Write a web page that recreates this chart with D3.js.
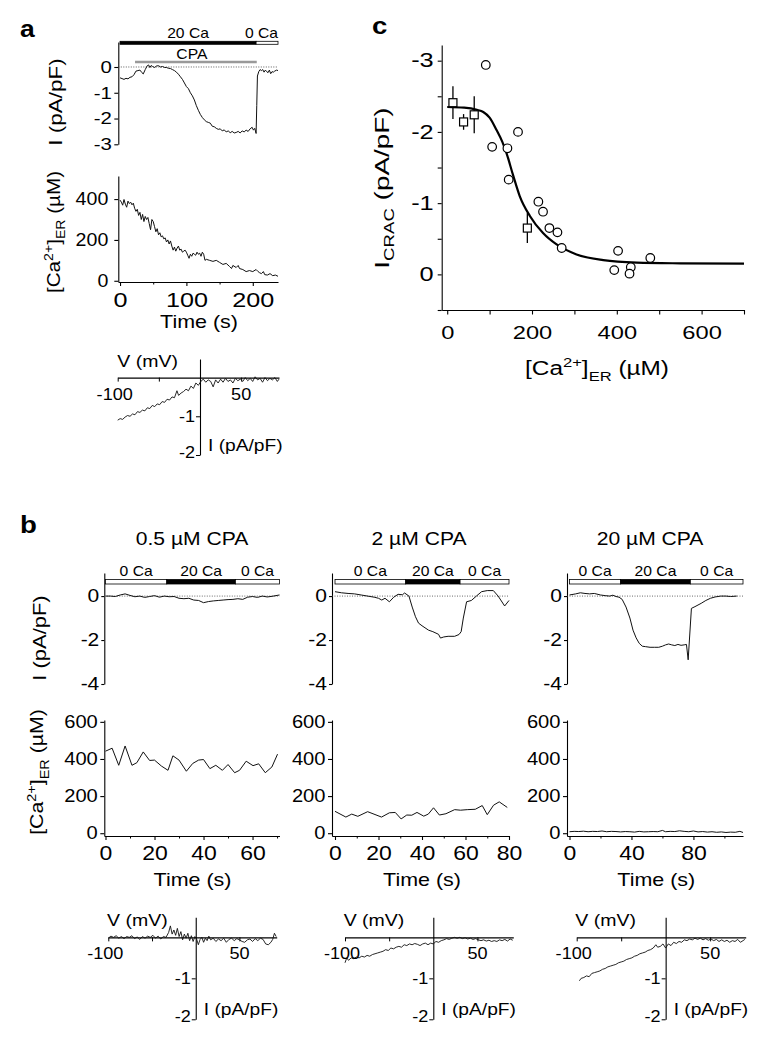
<!DOCTYPE html>
<html><head><meta charset="utf-8">
<script src="https://cdn.jsdelivr.net/npm/d3@7"></script>
<style>body{margin:0;background:#fff}svg{display:block}</style>
</head><body>
<script>
// ================= DATA =================
// Panel a: time course (t in s, I in pA/pF)
const aCurrent = [[0,-0.42],[3,-0.45],[6,-0.48],[9,-0.44],[12,-0.46],[15,-0.40],[18,-0.38],[21,-0.30],[24,-0.16],[27,-0.14],[30,-0.12],[33,-0.22],[35,-0.27],[38,-0.10],[41,0.05],[43,0.08],[45,-0.02],[47,0.06],[49,0.02],[52,-0.02],[55,0.04],[58,0.05],[61,0.00],[64,0.02],[67,-0.02],[70,-0.02],[73,-0.05],[76,-0.06],[79,-0.10],[82,-0.14],[85,-0.20],[88,-0.28],[91,-0.38],[94,-0.48],[97,-0.62],[100,-0.76],[103,-0.84],[106,-1.0],[109,-1.12],[112,-1.28],[115,-1.50],[118,-1.68],[121,-1.84],[124,-1.96],[127,-2.05],[130,-2.12],[133,-2.15],[136,-2.18],[139,-2.30],[142,-2.32],[145,-2.38],[148,-2.42],[151,-2.40],[154,-2.48],[157,-2.44],[160,-2.52],[163,-2.48],[166,-2.55],[169,-2.50],[172,-2.56],[175,-2.54],[178,-2.50],[181,-2.56],[184,-2.48],[187,-2.52],[190,-2.45],[193,-2.50],[196,-2.40],[199,-2.34],[201,-2.45],[203,-2.38],[205,-2.58],[206,-1.5],[207,-0.35],[209,-0.18],[211,-0.10],[213,-0.14],[215,-0.10],[217,-0.2],[219,-0.12],[221,-0.18],[223,-0.22],[225,-0.12],[227,-0.26],[229,-0.18],[231,-0.2],[233,-0.16],[236,-0.12],[238,-0.14]];
const aCaER = [[0,395],[2,385],[4,370],[6,398],[8,375],[10,360],[12,390],[14,378],[16,385],[18,372],[20,380],[22,355],[24,340],[26,350],[28,320],[30,335],[32,300],[34,325],[36,290],[38,315],[40,300],[42,310],[44,280],[46,250],[48,300],[50,290],[52,265],[54,240],[56,255],[58,225],[60,235],[62,215],[64,220],[66,205],[68,210],[70,190],[72,200],[74,180],[76,195],[78,170],[80,150],[82,165],[84,145],[86,160],[88,170],[90,150],[92,155],[94,140],[96,145],[98,150],[100,140],[102,125],[104,110],[106,130],[108,120],[110,135],[112,130],[114,125],[116,140],[118,130],[120,135],[122,120],[124,140],[126,130],[128,100],[130,105],[135,100],[140,95],[145,100],[150,90],[155,80],[160,85],[165,70],[168,60],[170,75],[175,65],[178,75],[180,60],[185,55],[190,45],[195,50],[200,45],[205,55],[208,45],[210,40],[213,35],[216,45],[218,30],[222,28],[226,35],[230,25],[234,28],[238,22]];
const aIV = [[-100,-1.10],[-97,-1.06],[-94,-1.08],[-91,-1.02],[-88,-0.98],[-85,-1.0],[-82,-0.94],[-79,-0.96],[-76,-0.88],[-73,-0.9],[-70,-0.84],[-67,-0.86],[-64,-0.78],[-61,-0.8],[-58,-0.72],[-55,-0.75],[-52,-0.68],[-49,-0.7],[-46,-0.62],[-43,-0.64],[-40,-0.56],[-37,-0.58],[-34,-0.5],[-31,-0.52],[-28,-0.34],[-26,-0.46],[-23,-0.4],[-20,-0.36],[-17,-0.3],[-14,-0.34],[-11,-0.22],[-8,-0.28],[-5,-0.14],[-2,-0.2],[1,-0.1],[4,-0.04],[7,-0.12],[10,-0.06],[13,-0.1],[16,-0.24],[19,-0.06],[22,-0.14],[25,-0.04],[28,-0.12],[31,-0.02],[34,-0.1],[37,-0.06],[40,-0.14],[43,-0.02],[46,-0.08],[49,-0.04],[52,-0.1],[55,0.0],[58,-0.08],[61,-0.02],[64,-0.1],[67,0.02],[70,-0.06],[73,-0.02],[76,-0.12],[79,0.0],[82,-0.08],[85,-0.02],[88,-0.06],[91,0.0],[94,-0.1],[96,-0.04]];
const aBar = [{start:0,end:205,fill:"#000",label:"20 Ca"},{start:205,end:238,fill:"#fff",label:"0 Ca"}];
const aCPA = {start:22.6,end:206,label:"CPA"};
const aTicksI = [0,-1,-2,-3];
const aTicksER = [0,200,400];
const aTicksTime = [0,100,200];
const aMinorTime = [50,150];
const ivTicksV = [-100,-50,50];
const ivTicksI = [-1,-2];

// Panel c
const cCircles = [[91,-2.94],[106,-1.79],[167,-2.0],[142,-1.77],[145,-1.33],[215,-1.02],[226,-0.88],[241,-0.65],[260,-0.59],[270,-0.37],[403,-0.33],[394,-0.06],[433,-0.10],[430,-0.01],[479,-0.23]];
const cSquares = [[13.5,-2.41,0.23],[38.6,-2.14,0.11],[63.7,-2.24,0.26],[189,-0.65,0.21]];
const cFit = [[0,-2.35],[40,-2.34],[70,-2.31],[85,-2.28],[100,-2.2],[116,-2.03],[130,-1.86],[140,-1.70],[155,-1.40],[171,-1.10],[195,-0.82],[226,-0.58],[258,-0.42],[305,-0.28],[368,-0.20],[447,-0.165],[550,-0.155],[700,-0.15]];
const cTicksX = [0,100,200,300,400,500,600,700];
const cLabelsX = [0,200,400,600];
const cTicksY = [-3,-2.5,-2,-1.5,-1,-0.5,0,0.5];
const cLabelsY = [-3,-2,-1,0];

// Panel b
const bTitles = ["0.5 µM CPA","2 µM CPA","20 µM CPA"];
const bDurations = [71,80,112];
const bBounds = [[0,25,53,71],[0,32.5,57.5,80],[0,33,78,112]];
const bBarFills = ["#fff","#000","#fff"];
const bBarLabels = ["0 Ca","20 Ca","0 Ca"];
const bTicksI = [0,-2,-4];
const bTicksER = [0,200,400,600];
const bTimeTicks = [[0,20,40,60],[0,20,40,60,80],[0,40,80]];
const bTimeMinor = [[10,30,50,70],[10,30,50,70],[20,60,100]];
const bCurrent1 = [[0,0],[2,0.0],[4,-0.02],[6,0.05],[8,0.1],[10,0.03],[12,-0.03],[14,0.0],[16,-0.06],[18,-0.02],[20,0.02],[22,-0.05],[24,0.0],[26,-0.03],[28,-0.02],[30,-0.1],[32,-0.12],[34,-0.1],[36,-0.18],[38,-0.2],[40,-0.3],[42,-0.25],[44,-0.22],[46,-0.2],[48,-0.18],[50,-0.16],[52,-0.15],[54,-0.12],[56,-0.15],[58,-0.05],[60,-0.02],[62,-0.06],[64,0.0],[66,-0.04],[68,-0.01],[70,0.03],[71,0.05]];
const bCurrent2 = [[0,0.2],[3,0.15],[6,0.12],[9,0.1],[12,0.05],[15,0.0],[18,-0.05],[20,-0.1],[21.5,-0.18],[23,-0.1],[25,-0.26],[27,-0.05],[29,0.08],[31,0.06],[32,0.14],[34,0.0],[35.5,-0.5],[37,-0.94],[38.4,-1.23],[40,-1.35],[43,-1.55],[45,-1.62],[47.6,-1.74],[48.5,-1.91],[50,-1.86],[52,-1.83],[55,-1.83],[57,-1.75],[58,-1.62],[59,-1.0],[60.5,-0.26],[62.7,-0.2],[65,0.0],[67.4,0.2],[70,0.25],[72.8,0.25],[75,0.0],[78,-0.45],[80,-0.2]];
const bCurrent3 = [[0,0.05],[4,0.1],[7,0.15],[10,0.12],[13,0.1],[16,0.12],[20,0.05],[23,0.02],[26,0.0],[28,0.04],[30,-0.02],[32,-0.05],[34,-0.15],[36.5,-0.5],[39,-1.0],[41,-1.55],[43,-1.9],[45,-2.15],[47,-2.28],[49,-2.3],[52,-2.33],[55,-2.33],[57.6,-2.33],[60,-2.28],[62,-2.22],[64,-2.18],[66,-2.22],[68,-2.25],[70,-2.2],[72,-2.24],[74,-2.22],[75.5,-2.2],[76.6,-2.9],[78.7,-0.56],[81,-0.48],[85,-0.33],[88,-0.2],[91,-0.1],[94,-0.04],[97.6,0.0],[101,0.0],[104,-0.02],[108,0.0]];
const bCaER1 = [[0,442],[2.7,458],[5.4,366],[8,470],[10.8,366],[12.8,380],[15.4,438],[18,392],[20,394],[22.8,362],[25.5,339],[27.5,417],[30,394],[33,334],[35.6,376],[38,394],[40,397],[42.6,348],[45,366],[47.7,339],[50,370],[52.7,326],[54.7,339],[57.4,388],[60.2,364],[62.5,374],[65.2,326],[67.9,357],[70.2,426]];
const bCaER2 = [[0,118],[5,87],[7.7,103],[10.5,91],[15,116],[21.4,87],[25,110],[27.7,112],[30.4,77],[33,98],[35.3,97],[37.7,112],[40.8,92],[42.9,103],[45.3,137],[48,98],[51,105],[55,127],[57.7,124],[60.8,127],[64.5,129],[67.7,149],[70,100],[72.9,151],[75.5,169],[79.2,139]];
const bCaER3 = [[0,8],[3,10],[6,9],[9,11],[12,8],[15,10],[18,9],[21,12],[24,8],[27,10],[30,9],[33,7],[36,9],[39,8],[42,6],[45,10],[48,7],[51,8],[54,9],[57,8],[60,15],[62,8],[65,10],[68,9],[71,13],[74,10],[77,8],[80,12],[83,7],[86,9],[89,6],[92,8],[95,5],[98,7],[101,4],[104,6],[107,5],[110,10],[112,4]];
const bIV1 = [[-100,-0.02],[-97,0.03],[-94,0.0],[-91,0.04],[-88,-0.02],[-85,0.02],[-82,-0.03],[-79,0.02],[-76,0.0],[-73,0.04],[-70,-0.03],[-67,0.01],[-64,-0.05],[-61,0.02],[-58,-0.02],[-55,0.03],[-52,0.0],[-49,0.05],[-46,-0.02],[-43,0.03],[-40,-0.04],[-37,0.02],[-34,0.0],[-31,0.12],[-29,0.28],[-27,0.08],[-25,0.18],[-23,0.05],[-21,0.22],[-19,0.02],[-17,0.14],[-15,-0.06],[-13,0.08],[-11,-0.02],[-9,0.1],[-7,-0.08],[-5,0.04],[-3,-0.1],[-1,0.02],[1,-0.04],[3,-0.18],[5,-0.05],[7,0.0],[9,-0.12],[11,-0.02],[13,-0.08],[15,0.03],[17,-0.06],[20,-0.02],[23,-0.1],[26,-0.04],[29,-0.08],[32,-0.02],[35,-0.12],[38,-0.05],[41,-0.02],[44,-0.08],[47,-0.03],[50,-0.06],[53,-0.1],[56,-0.12],[59,-0.06],[62,-0.04],[65,-0.1],[68,-0.03],[71,-0.08],[74,-0.02],[77,-0.05],[80,-0.16],[83,-0.18],[86,-0.12],[88,-0.05],[90,0.1],[92,0.02]];
const bIV2 = [[-100,-0.62],[-98,-0.5],[-96,-0.56],[-93,-0.5],[-90,-0.52],[-87,-0.48],[-84,-0.5],[-81,-0.46],[-78,-0.48],[-75,-0.44],[-72,-0.46],[-69,-0.42],[-66,-0.4],[-63,-0.38],[-60,-0.36],[-57,-0.34],[-54,-0.3],[-51,-0.32],[-48,-0.26],[-45,-0.28],[-42,-0.24],[-39,-0.22],[-36,-0.24],[-33,-0.18],[-30,-0.2],[-27,-0.16],[-24,-0.18],[-21,-0.15],[-18,-0.17],[-15,-0.2],[-12,-0.16],[-9,-0.14],[-6,-0.18],[-3,-0.14],[0,-0.16],[3,-0.1],[6,-0.12],[9,-0.08],[12,-0.06],[15,-0.03],[18,-0.05],[21,-0.02],[24,0.0],[27,-0.02],[30,0.0],[33,-0.03],[36,-0.01],[39,-0.04],[42,-0.02],[45,-0.05],[48,-0.03],[51,-0.06],[54,-0.08],[57,-0.06],[60,-0.09],[63,-0.07],[66,-0.1],[69,-0.08],[72,-0.1],[75,-0.06],[78,-0.08],[81,-0.05],[84,-0.09],[87,-0.04],[90,-0.07]];
const bIV3 = [[-97,-1.06],[-95,-1.0],[-92,-0.98],[-89,-0.94],[-86,-0.96],[-83,-0.88],[-80,-0.86],[-77,-0.84],[-74,-0.82],[-71,-0.78],[-68,-0.76],[-65,-0.72],[-62,-0.7],[-59,-0.68],[-56,-0.66],[-53,-0.62],[-50,-0.6],[-47,-0.58],[-44,-0.54],[-41,-0.52],[-38,-0.5],[-35,-0.46],[-32,-0.44],[-29,-0.4],[-26,-0.38],[-23,-0.36],[-20,-0.32],[-17,-0.3],[-14,-0.26],[-11,-0.18],[-9,-0.24],[-6,-0.22],[-3,-0.16],[0,-0.26],[3,-0.16],[6,-0.2],[9,-0.12],[12,-0.15],[15,-0.1],[18,-0.12],[21,-0.06],[24,-0.08],[27,-0.04],[30,-0.06],[33,-0.02],[36,-0.05],[39,-0.02],[42,-0.06],[45,-0.03],[48,-0.07],[51,-0.04],[54,-0.08],[57,-0.05],[60,-0.1],[63,-0.06],[66,-0.1],[69,-0.07],[72,-0.12],[75,-0.08],[78,-0.1],[81,-0.05],[84,-0.12],[87,-0.08],[89,-0.05]];
const bCurrent = [bCurrent1,bCurrent2,bCurrent3];
const bCaER = [bCaER1,bCaER2,bCaER3];
const bIV = [bIV1,bIV2,bIV3];
const bVmax = [92.6,90.6,90];

// ================= DRAWING =================
const FONT = '"Liberation Sans", Arial, Helvetica, sans-serif';
const svg = d3.select("body").append("svg").attr("width",768).attr("height",1045);
svg.append("rect").attr("width",768).attr("height",1045).attr("fill","#fff");

function txt(g,x,y,parts,o={}){
  const sx = o.sx||1.18;
  const t = g.append("text")
    .attr("transform",`translate(${x},${y})`+(o.rot?` rotate(${o.rot})`:"")+` scale(${sx},1)`)
    .attr("text-anchor",o.anchor||"middle")
    .attr("font-family",FONT).attr("font-size",o.size||17)
    .attr("font-weight",o.weight||"normal").attr("fill","#000");
  if(Array.isArray(parts)) parts.forEach(p=>t.append("tspan").attr("dy",p.dy||0).attr("font-size",p.size||null).text(p.t));
  else t.text(parts);
  return t;
}
function styleAxis(g,size,sx){
  g.attr("font-family",FONT);
  g.selectAll("path.domain").attr("stroke","#000").attr("stroke-width",1.1);
  g.selectAll(".tick line").attr("stroke","#000").attr("stroke-width",1.1);
  g.selectAll(".tick text").attr("font-size",size).attr("fill","#000").attr("font-family",FONT)
    .each(function(){const t=d3.select(this);const x=+t.attr("x")||0;const y=+t.attr("y")||0;
      t.attr("x",null).attr("y",null).attr("transform",`translate(${x},${y}) scale(${sx},1)`);});
  return g;
}
const fmt = d=>String(d);
function trace(g,data,x,y,w){
  g.append("path").datum(data).attr("fill","none").attr("stroke","#111").attr("stroke-width",w||1)
   .attr("stroke-linejoin","round").attr("d",d3.line().x(d=>x(d[0])).y(d=>y(d[1])));
}
const erLabel = (s)=>[{t:"[Ca"},{t:"2+",dy:-s*0.4,size:s*0.68},{t:"]",dy:s*0.4},{t:"ER",dy:s*0.3,size:s*0.68},{t:" (µM)",dy:-s*0.3}];

// ---------- Panel a ----------
txt(svg,20,37,"a",{anchor:"start",size:23,weight:"bold",sx:1.15});
const aX = d3.scaleLinear().domain([-2.6,238]).range([118.3,278]);
const aYI = d3.scaleLinear().domain([-3,0.97]).range([144.3,42]);
const aYE = d3.scaleLinear().domain([-6,513]).range([282,176]);
styleAxis(svg.append("g").attr("transform","translate(118.3,0)")
  .call(d3.axisLeft(aYI).tickValues(aTicksI).tickSize(4).tickPadding(2.5).tickSizeOuter(0).tickFormat(fmt)),17,1.2);
svg.append("line").attr("x1",118.3).attr("x2",278).attr("y1",aYI(0)).attr("y2",aYI(0))
  .attr("stroke","#333").attr("stroke-width",0.8).attr("stroke-dasharray","1,1.5");
aBar.forEach(s=>{
  svg.append("rect").attr("x",aX(s.start)).attr("y",41.3).attr("width",aX(s.end)-aX(s.start)).attr("height",3)
    .attr("fill",s.fill).attr("stroke","#000").attr("stroke-width",0.8);
});
txt(svg,(aX(aBar[0].start)+aX(aBar[0].end))/2,38,aBar[0].label,{size:14,sx:1.12});
txt(svg,aX(aBar[1].end),38,aBar[1].label,{size:14,sx:1.12,anchor:"end"});
svg.append("line").attr("x1",aX(aCPA.start)).attr("x2",aX(aCPA.end)).attr("y1",62).attr("y2",62)
  .attr("stroke","#999").attr("stroke-width",2.6);
txt(svg,(aX(aCPA.start)+aX(aCPA.end))/2-4,58.5,aCPA.label,{size:14,sx:1.12});
trace(svg,aCurrent,aX,aYI);
txt(svg,62,102,"I (pA/pF)",{rot:-90,size:18,sx:1.25});

styleAxis(svg.append("g").attr("transform","translate(118.3,0)")
  .call(d3.axisLeft(aYE).tickValues(aTicksER).tickSize(4).tickPadding(6).tickSizeOuter(0).tickFormat(fmt)),17.5,1.12);
styleAxis(svg.append("g").attr("transform","translate(0,282)")
  .call(d3.axisBottom(aX).tickValues(aTicksTime).tickSize(4).tickPadding(6).tickSizeOuter(0).tickFormat(fmt)),21,1.2);
svg.append("g").attr("transform","translate(0,282)")
  .call(d3.axisBottom(aX).tickValues(aMinorTime).tickSize(2.5).tickSizeOuter(0).tickFormat(""))
  .call(g=>{g.select("path.domain").remove();g.selectAll("line").attr("stroke","#000");});
trace(svg,aCaER,aX,aYE);
txt(svg,60,232,erLabel(18),{rot:-90,size:18,sx:1.15});
txt(svg,aX(119),328,"Time (s)",{size:18.5,sx:1.16});

// Panel a IV
const aVx = d3.scaleLinear().domain([-100,96]).range([117.7,279]);
const aVy = d3.scaleLinear().domain([-2,0.48]).range([455,359]);
function drawIV(g,vx,vy,data,o){
  g.append("g").attr("transform",`translate(0,${vy(0)})`)
    .call(d3.axisBottom(vx).tickValues(ivTicksV).tickSize(4).tickSizeOuter(0).tickFormat(""))
    .call(a=>{a.select("path.domain").attr("stroke","#000").attr("stroke-width",1.1);a.selectAll("line").attr("stroke","#000");});
  g.append("g").attr("transform",`translate(${vx(0)},0)`)
    .call(d3.axisLeft(vy).tickValues(ivTicksI).tickSize(4).tickSizeOuter(0).tickFormat(""))
    .call(a=>{a.select("path.domain").attr("stroke","#000").attr("stroke-width",1.1);a.selectAll("line").attr("stroke","#000");});
  trace(g,data,vx,vy,0.9);
  const s=16;
  txt(g,vx(-100)+o.vlab,vy(0)-11,"V (mV)",{size:s,sx:1.22});
  txt(g,vx(-100)-3,vy(0)+22,"-100",{size:s,sx:1.13});
  txt(g,vx(50),vy(0)+22,"50",{size:s,sx:1.13});
  txt(g,vx(0)-5,vy(-1)+6,"-1",{size:s,sx:1.13,anchor:"end"});
  txt(g,vx(0)-5,vy(-2)+3,"-2",{size:s,sx:1.13,anchor:"end"});
  txt(g,vx(0)+8,vy(-2)-4,"I (pA/pF)",{size:s,sx:1.2,anchor:"start"});
}
drawIV(svg,aVx,aVy,aIV,{vlab:30});

// ---------- Panel c ----------
txt(svg,372,34,"c",{anchor:"start",size:24,weight:"bold",sx:1.15});
const cX = d3.scaleLinear().domain([-13,700]).range([441.7,744]);
const cY = d3.scaleLinear().domain([0.5,-3.22]).range([310,45]);
styleAxis(svg.append("g").attr("transform","translate(441.7,0)")
  .call(d3.axisLeft(cY).tickValues(cTicksY).tickSize(4).tickPadding(4).tickSizeOuter(0)
  .tickFormat(d=>cLabelsY.includes(d)?String(d):"")),19.5,1.3);
styleAxis(svg.append("g").attr("transform","translate(0,310)")
  .call(d3.axisBottom(cX).tickValues(cTicksX).tickSize(4.5).tickPadding(11).tickSizeOuter(0)
  .tickFormat(d=>cLabelsX.includes(d)?String(d):"")),18.5,1.28);
svg.append("path").datum(cFit).attr("fill","none").attr("stroke","#000").attr("stroke-width",2.2)
  .attr("d",d3.line().curve(d3.curveMonotoneX).x(d=>cX(d[0])).y(d=>cY(d[1])));
svg.append("g").selectAll("line").data(cSquares).join("line")
  .attr("x1",d=>cX(d[0])).attr("x2",d=>cX(d[0])).attr("y1",d=>cY(d[1]-d[2])).attr("y2",d=>cY(d[1]+d[2]))
  .attr("stroke","#000").attr("stroke-width",1.3);
svg.append("g").selectAll("rect").data(cSquares).join("rect")
  .attr("x",d=>cX(d[0])-4).attr("y",d=>cY(d[1])-4).attr("width",8).attr("height",8)
  .attr("fill","#fff").attr("stroke","#000").attr("stroke-width",1.2);
svg.append("g").selectAll("circle").data(cCircles).join("circle")
  .attr("cx",d=>cX(d[0])).attr("cy",d=>cY(d[1])).attr("r",4.3)
  .attr("fill","#fff").attr("stroke","#000").attr("stroke-width",1.2);
txt(svg,389,188,[{t:"I"},{t:"CRAC",dy:5,size:14},{t:" (pA/pF)",dy:-5}],{rot:-90,size:21,sx:1.33});
txt(svg,597,375,erLabel(19.5),{size:19.5,sx:1.25});

// ---------- Panel b ----------
txt(svg,20,533,"b",{anchor:"start",size:24,weight:"bold",sx:1.15});
const cols = [{axisX:104.3,x0:105.5,x1:279.5,title:192,vx0:108.3,vx1:276.7},
              {axisX:332,x0:335,x1:509,title:419,vx0:345,vx1:513.3},
              {axisX:567,x0:569.5,x1:743,title:650,vx0:576.7,vx1:745.7}];
const bYI = d3.scaleLinear().domain([-4,1.05]).range([684,573]);
const bYE = d3.scaleLinear().domain([-15,610]).range([836,720]);
const bVy = d3.scaleLinear().domain([-2,0.49]).range([1019.3,917.3]);
cols.forEach((c,i)=>{
  const tmax = bDurations[i];
  const tmin = -(c.x0-c.axisX)*tmax/(c.x1-c.x0);
  const x = d3.scaleLinear().domain([tmin,tmax]).range([c.axisX,c.x1]);
  txt(svg,c.title,545,bTitles[i],{size:18.5,sx:1.14});
  // current
  styleAxis(svg.append("g").attr("transform",`translate(${c.axisX},0)`)
    .call(d3.axisLeft(bYI).tickValues(bTicksI).tickSize(3).tickPadding(2).tickSizeOuter(0).tickFormat(fmt)),17.5,1.2);
  svg.append("line").attr("x1",c.axisX).attr("x2",c.x1).attr("y1",bYI(0)).attr("y2",bYI(0))
    .attr("stroke","#444").attr("stroke-width",0.8).attr("stroke-dasharray","1,1.5");
  const bd = bBounds[i];
  for(let k=0;k<3;k++){
    svg.append("rect").attr("x",x(bd[k])).attr("y",579.5).attr("width",x(bd[k+1])-x(bd[k])).attr("height",4.5)
      .attr("fill",bBarFills[k]).attr("stroke","#000").attr("stroke-width",0.8);
    txt(svg,(x(bd[k])+x(bd[k+1]))/2,575.5,bBarLabels[k],{size:14,sx:1.12});
  }
  trace(svg,bCurrent[i],x,bYI);
  // Ca ER
  styleAxis(svg.append("g").attr("transform",`translate(${c.axisX},0)`)
    .call(d3.axisLeft(bYE).tickValues(bTicksER).tickSize(4).tickPadding(2.5).tickSizeOuter(0).tickFormat(fmt)),17.5,1.15);
  styleAxis(svg.append("g").attr("transform","translate(0,836)")
    .call(d3.axisBottom(x).tickValues(bTimeTicks[i]).tickSize(4).tickPadding(6).tickSizeOuter(0).tickFormat(fmt)),20,1.15);
  svg.append("g").attr("transform","translate(0,836)")
    .call(d3.axisBottom(x).tickValues(bTimeMinor[i]).tickSize(2.5).tickSizeOuter(0).tickFormat(""))
    .call(g=>{g.select("path.domain").remove();g.selectAll("line").attr("stroke","#000");});
  trace(svg,bCaER[i],x,bYE);
  txt(svg,(c.x0+c.x1)/2,886,"Time (s)",{size:18.5,sx:1.16});
  // IV
  const vx = d3.scaleLinear().domain([-100,bVmax[i]]).range([c.vx0,c.vx1]);
  drawIV(svg,vx,bVy,bIV[i],{vlab:29});
});
txt(svg,46,638,"I (pA/pF)",{rot:-90,size:18,sx:1.22});
txt(svg,43,772,erLabel(18.5),{rot:-90,size:18.5,sx:1.15});
</script>
</body></html>
